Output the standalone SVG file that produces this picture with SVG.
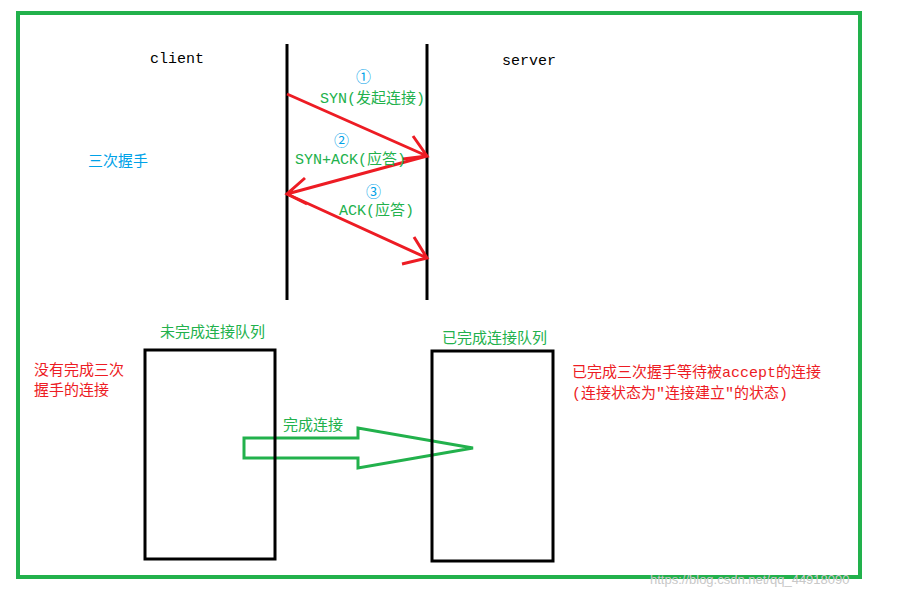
<svg xmlns="http://www.w3.org/2000/svg" width="917" height="598" viewBox="0 0 917 598">
<style>
.g{fill:#22b14c;font-family:"Liberation Mono","Noto Sans CJK SC",monospace;font-size:15px}
.r{fill:#ed1c24;font-family:"Liberation Mono","Noto Sans CJK SC",monospace;font-size:15px}
.b{fill:#00a2e8;font-family:"Liberation Mono","Noto Sans CJK SC",monospace;font-size:15px}
.k{fill:#000;font-family:"Liberation Mono",monospace;font-size:15px}
.rl{stroke:#ed1c24;stroke-width:3;fill:none}
</style>
<rect width="917" height="598" fill="#fff"/>
<rect x="18" y="13" width="842" height="564" fill="none" stroke="#22b14c" stroke-width="4"/>
<g id="client"><line x1="287" y1="44" x2="287" y2="300" stroke="#000" stroke-width="3"/><text class="k" x="150" y="63">client</text></g>
<g id="server"><line x1="427" y1="44" x2="427" y2="300" stroke="#000" stroke-width="3"/><text class="k" x="502" y="65">server</text></g>
<text class="b" x="88" y="166">三次握手</text>
<g id="connectors">
<path class="rl" d="M287,94 L427,156 M413,136 L427,156 L403,159"/>
<path class="rl" d="M427,156 L287,194 M305,178 L287,194 L307,204"/>
<path class="rl" d="M287,194 L427,258 M414,237 L427,258 L402,264"/>
<polygon points="244,438 358,438 358,428 473,448 358,468 358,458 244,458" fill="none" stroke="#22b14c" stroke-width="3"/>
</g>
<text class="b" x="356" y="82">①</text><text class="g" x="320" y="103">SYN(发起连接)</text>
<text class="b" x="334" y="146">②</text><text class="g" x="295" y="164">SYN+ACK(应答)</text>
<text class="b" x="366" y="197">③</text><text class="g" x="339" y="215">ACK(应答)</text>
<g id="queue1"><rect x="145" y="350" width="130" height="209" fill="none" stroke="#000" stroke-width="3"/><text class="g" x="160" y="337">未完成连接队列</text></g>
<g id="queue2"><rect x="432" y="351" width="121" height="210" fill="none" stroke="#000" stroke-width="3"/><text class="g" x="442" y="343">已完成连接队列</text></g>
<text class="g" x="283" y="430">完成连接</text>
<text class="r" x="34" y="375">没有完成三次</text><text class="r" x="34" y="395">握手的连接</text>
<text class="r" x="572" y="377">已完成三次握手等待被accept的连接</text>
<text class="r" x="572" y="398">(连接状态为"连接建立"的状态)</text>
<text x="650" y="584" fill="#c8c8c8" font-family="Liberation Sans,sans-serif" font-size="13">https://blog.csdn.net/qq_44918090</text>
</svg>
